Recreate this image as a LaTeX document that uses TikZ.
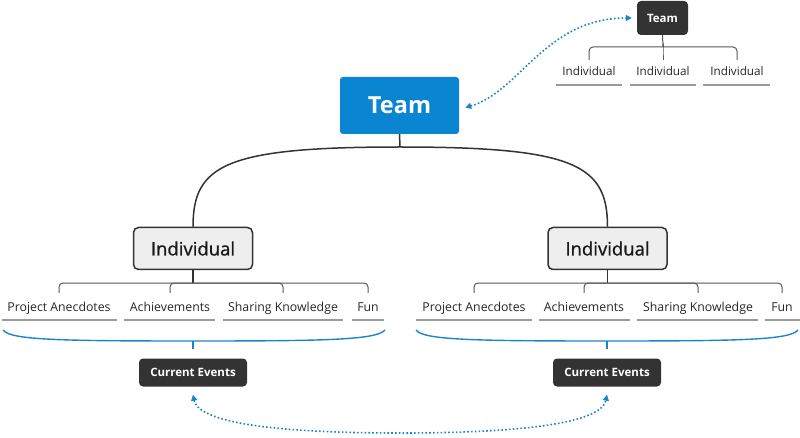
\documentclass[tikz,border=0pt]{standalone}
\usepackage{fontspec}
\setmainfont{Open Sans}
\newfontfamily\medfont{Open Sans}[FakeBold=0.9]
\usetikzlibrary{arrows.meta}
\definecolor{mainblue}{HTML}{0A85D2}
\definecolor{linkblue}{HTML}{1B84CC}
\definecolor{darkbox}{HTML}{333333}
\definecolor{lightbox}{HTML}{EEEEEE}
\definecolor{ulgray}{HTML}{9A9A9A}
\definecolor{brk}{HTML}{555555}
\begin{document}
\begin{tikzpicture}[x=1pt,y=-1pt,
  mainbox/.style={fill=mainblue,rounded corners=3pt,minimum width=119pt,minimum height=57pt,text=white,font=\fontsize{23.5}{28}\selectfont\bfseries,inner sep=0},
  indbox/.style={fill=lightbox,draw=darkbox,line width=1.5pt,rounded corners=5pt,minimum width=119pt,minimum height=42pt,text=black!90,font=\medfont\fontsize{18.5}{22}\selectfont,inner sep=0},
  darkb/.style={fill=darkbox,rounded corners=4pt,text=white,font=\fontsize{11.5}{14}\selectfont\bfseries,inner sep=0},
  lbl/.style={font=\fontsize{12.3}{15}\selectfont,text=black!85,anchor=base,inner xsep=0,inner ysep=3pt,text height=9pt,text depth=3pt},
  ul/.style={draw=ulgray,line width=1.4pt},
  brkline/.style={draw=brk,line width=1pt,rounded corners=4pt},
  trunk/.style={draw=darkbox,line width=1.5pt},
  bluebrace/.style={draw=linkblue,line width=1.4pt},
  dotlink/.style={draw=linkblue,line width=1.6pt,dash pattern=on 1.6pt off 2.2pt,{Triangle[width=6pt,length=6pt]}-{Triangle[width=6pt,length=6pt]}}
]
\useasboundingbox (0,0) rectangle (800,438);

% main team
\node[mainbox] (team) at (399.5,105.5) {Team};
\coordinate (tj) at (400,147);
\node[indbox] (indL) at (193,248.5) {Individual};
\node[indbox] (indR) at (607.5,248.5) {Individual};
\draw[trunk] (team.south) -- (tj);
\draw[trunk] (tj) .. controls (225,147) and (193,165) .. (indL.north);
\draw[trunk] (tj) .. controls (575,147) and (607.5,165) .. (indR.north);

% left children
\coordinate (jL) at (193,283);
\draw[trunk,line width=1.2pt] (indL.south) -- (jL);
\node[lbl] (pa1) at (59,311) {Project Anecdotes};
\node[lbl] (ac1) at (170,311) {Achievements};
\node[lbl] (sk1) at (283,311) {Sharing Knowledge};
\node[lbl] (fu1) at (368,311) {Fun};
\foreach \n in {pa1,ac1,sk1,fu1}{\draw[brkline] (jL) -| ([yshift=6pt]\n.north);}
\draw[ul] (2,320) -- (117,320);
\draw[ul] (124,320) -- (215,320);
\draw[ul] (223,320) -- (343,320);
\draw[ul] (352,320) -- (384,320);

% right children
\coordinate (jR) at (607.5,283);
\draw[trunk,line width=1.2pt] (indR.south) -- (jR);
\node[lbl] (pa2) at (474,311) {Project Anecdotes};
\node[lbl] (ac2) at (584,311) {Achievements};
\node[lbl] (sk2) at (698,311) {Sharing Knowledge};
\node[lbl] (fu2) at (782,311) {Fun};
\foreach \n in {pa2,ac2,sk2,fu2}{\draw[brkline] (jR) -| ([yshift=6pt]\n.north);}
\draw[ul] (416,320) -- (532,320);
\draw[ul] (539,320) -- (630,320);
\draw[ul] (637,320) -- (758,320);
\draw[ul] (765,320) -- (800,320);

% blue braces
\coordinate (bL) at (193,341);
\coordinate (bR) at (607,341);
\draw[bluebrace] (3,330) .. controls (10,340) and (60,341) .. (bL) .. controls (326,341) and (376,340) .. (385,330);
\draw[bluebrace] (416,330) .. controls (423,340) and (474,341) .. (bR) .. controls (740,341) and (790,340) .. (798,330);

\node[darkb,minimum width=108pt,minimum height=28pt] (ceL) at (193,372.5) {Current Events};
\node[darkb,minimum width=108pt,minimum height=28pt] (ceR) at (607,372.5) {Current Events};
\draw[bluebrace] (bL) -- ([yshift=9pt]ceL.north);
\draw[bluebrace] (bR) -- ([yshift=9pt]ceR.north);

\draw[dotlink] ([yshift=-8pt]ceL.south) .. controls (200,430) and (330,433) .. (400,433) .. controls (470,433) and (600,430) .. ([yshift=-8pt]ceR.south);

% top team
\node[darkb,minimum width=51pt,minimum height=34pt,font=\fontsize{11.5}{14}\selectfont\bfseries] (tt) at (662.5,18) {Team};
\coordinate (tjt) at (663,47);
\node[lbl,font=\fontsize{11.7}{14}\selectfont] (ti1) at (589,76) {Individual};
\node[lbl,font=\fontsize{11.7}{14}\selectfont] (ti2) at (663,76) {Individual};
\node[lbl,font=\fontsize{11.7}{14}\selectfont] (ti3) at (737,76) {Individual};
\draw[brk,line width=1pt] (tt.south) -- (tjt);
\foreach \n in {ti1,ti2,ti3}{\draw[brkline] (tjt) -| ([yshift=4pt]\n.north);}
\draw[ul] (556,85) -- (622,85);
\draw[ul] (630,85) -- (696,85);
\draw[ul] (703,85) -- (770,85);

\draw[dotlink] ([xshift=6pt,yshift=-2pt]team.east) .. controls (520,92) and (545,18) .. ([xshift=-5pt]tt.west);
\end{tikzpicture}
\end{document}
